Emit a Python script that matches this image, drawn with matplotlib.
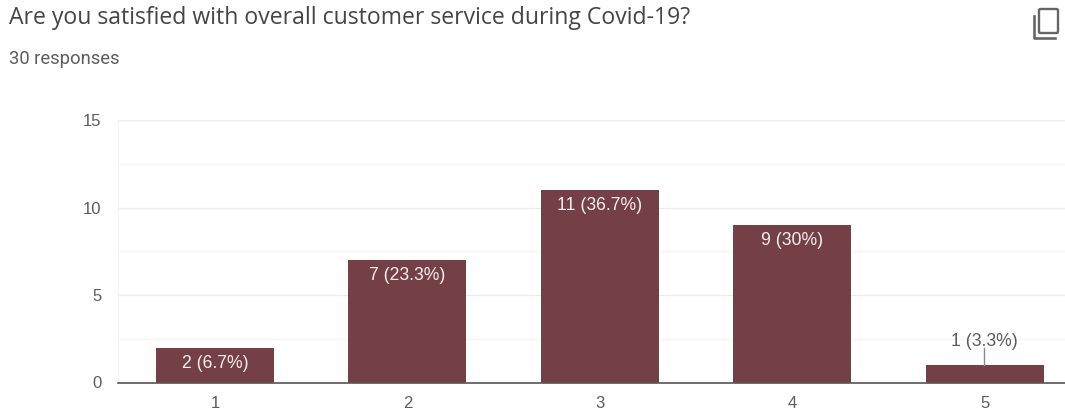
import matplotlib
matplotlib.use("Agg")
import matplotlib.pyplot as plt
from matplotlib.patches import FancyBboxPatch

# ===================== Data =====================

categories = ["1", "2", "3", "4", "5"]
counts = [2, 7, 11, 9, 1]
labels = ["2 (6.7%)", "7 (23.3%)", "11 (36.7%)", "9 (30%)", "1 (3.3%)"]
y_ticks = [0, 5, 10, 15]
y_minor = [2.5, 7.5, 12.5]

title = "Are you satisfied with overall customer service during Covid-19?"
subtitle = "30 responses"

BAR = "#744045"
GRID = "#ececec"
MINOR = "#f5f5f5"
TEXT = "#5c5c5c"

# ===================== Plotting =====================

W, H = 1065, 413
plt.rcParams["font.family"] = ["Liberation Sans", "DejaVu Sans"]

fig = plt.figure(figsize=(W / 100, H / 100), dpi=100, facecolor="white")
ax = fig.add_axes([118 / W, 1 - 382.5 / H, 1 - 118 / W, (382.5 - 120) / H])

x = list(range(len(categories)))
ax.bar(x, counts, width=0.613, color=BAR, zorder=3)

ax.set_xlim(-0.504, 4.418)
ax.set_ylim(0, 15)

for s in ["top", "right", "left"]:
    ax.spines[s].set_visible(False)
ax.spines["bottom"].set_color("#555555")
ax.spines["bottom"].set_linewidth(1.2)
ax.spines["bottom"].set_zorder(4)

for v in y_ticks[1:]:
    ax.axhline(v, color=GRID, lw=1, zorder=1)
for v in y_minor:
    ax.axhline(v, color=MINOR, lw=1, zorder=1)
ax.axvline(-0.504, color=MINOR, lw=1.5, zorder=1)

ax.set_xticks(x)
ax.set_xticklabels(categories)
ax.set_yticks(y_ticks)
ax.tick_params(axis="both", length=0, labelsize=12, labelcolor=TEXT)
ax.tick_params(axis="x", pad=10)
ax.tick_params(axis="y", pad=12)

# Values sit inside tall bars, the short one gets a leader line above it
for i, (c, lab) in enumerate(zip(counts, labels)):
    if c >= 2:
        ax.text(i, c - 0.4, lab, ha="center", va="top", color="#f4eeee",
                fontsize=12.7, zorder=5)
    else:
        ax.plot([i - 0.004, i - 0.004], [c, c + 0.98], color="#8a8a8a", lw=1, zorder=5)
        ax.text(i, c + 0.88, lab, ha="center", va="bottom", color=TEXT,
                fontsize=12.7, zorder=5)

# ===================== Header =====================

fig.text(9 / W, 1 - 24 / H, title, ha="left", va="baseline", fontsize=16.6,
         color="#454545", family=["Open Sans", "DejaVu Sans"])
fig.text(9 / W, 1 - 64.5 / H, subtitle, ha="left", va="baseline", fontsize=13.2,
         color=TEXT, family=["Roboto", "DejaVu Sans"])

# Copy icon: a rounded square with an open corner bracket behind it
overlay = fig.add_axes([0, 0, 1, 1], facecolor="none")
overlay.set_xlim(0, W)
overlay.set_ylim(H, 0)
overlay.axis("off")
overlay.add_patch(FancyBboxPatch((1039, 9), 19, 24,
                                 boxstyle="round,pad=0,rounding_size=1.5",
                                 fill=False, ec="#666666", lw=1.7))
overlay.plot([1033.5, 1033.5, 1055], [16, 38, 38], color="#666666", lw=1.9)

fig.savefig("out.png", dpi=100)
plt.close(fig)
